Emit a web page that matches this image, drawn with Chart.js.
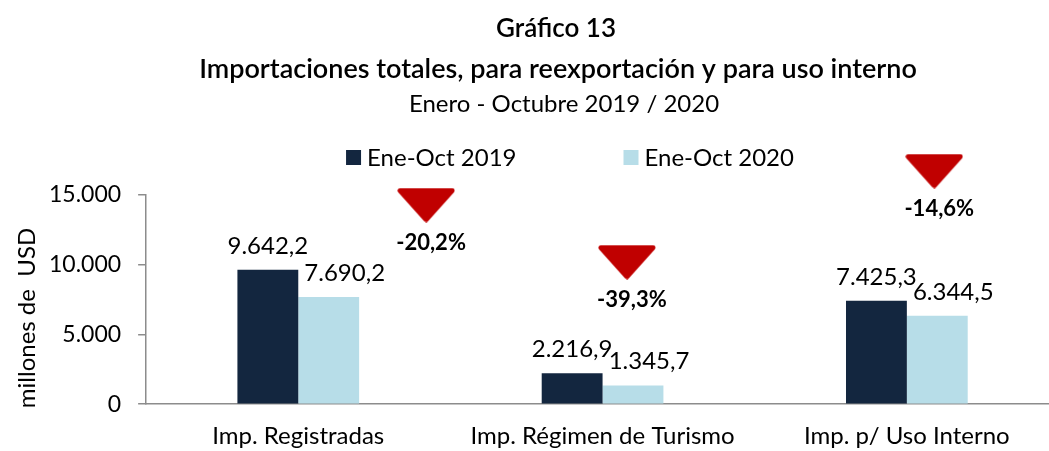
<!DOCTYPE html>
<html>
<head>
<meta charset="utf-8">
<script src="https://cdn.jsdelivr.net/npm/chart.js@4.4.0/dist/chart.umd.min.js"></script>
<style>
  html, body { margin: 0; padding: 0; background: #fff; overflow: hidden; }
  #wrap { width: 1059px; height: 469px; }
</style>
</head>
<body>
<div id="wrap"><canvas id="chart"></canvas></div>
<script>
const categorias = ['Imp. Registradas', 'Imp. Régimen de Turismo', 'Imp. p/ Uso Interno'];
const series = ['Ene-Oct 2019', 'Ene-Oct 2020'];
const valores2019 = [9642.2, 2216.9, 7425.3];
const valores2020 = [7690.2, 1345.7, 6344.5];
const variacion = [-20.2, -39.3, -14.6];
const yTicks = [0, 5000, 10000, 15000];
// where the red arrows sit: x in category units, y in axis units
const flechaX = [0.42, 1.08, 2.09];
const flechaY = [14280, 10190, 16720];

const titulo = ['Gráfico 13', 'Importaciones totales, para reexportación y para uso interno'];
const subtitulo = 'Enero - Octubre 2019 / 2020';
const tituloY = 'millones de  USD';

const FONT = 'Lato, "Open Sans", sans-serif';
const navy = '#13263F';
const celeste = '#B7DDE8';
const rojo = '#C00000';
const gris = '#8C8C8C';

function fmt(v, dec) {
  const parts = v.toFixed(dec).split('.');
  const miles = parts[0].replace(/\B(?=(\d{3})+(?!\d))/g, '.');
  return parts[1] ? miles + ',' + parts[1] : miles;
}

// flat red triangle with soft corners
function makeTriangle(w, h, color) {
  const c = document.createElement('canvas');
  c.width = w;
  c.height = h;
  const g = c.getContext('2d');
  g.fillStyle = color;
  g.strokeStyle = color;
  g.lineJoin = 'round';
  g.lineWidth = 5;
  g.beginPath();
  g.moveTo(3, 3);
  g.lineTo(w - 3, 3);
  g.lineTo(w / 2, h - 3);
  g.closePath();
  g.fill();
  g.stroke();
  return c;
}
const triangulo = makeTriangle(58, 35, rojo);

const encabezado = {
  id: 'encabezado',
  afterDraw(chart) {
    const ctx = chart.ctx;
    ctx.save();
    ctx.fillStyle = '#000';
    ctx.textAlign = 'center';
    ctx.textBaseline = 'alphabetic';
    ctx.font = `600 26px ${FONT}`;
    ctx.fillText(titulo[0], 556, 37);
    ctx.font = `600 27px ${FONT}`;
    ctx.fillText(titulo[1], 558, 78);
    ctx.font = `400 24px ${FONT}`;
    ctx.fillText(subtitulo, 564, 112);

    // legend
    const box = 15, gapTxt = 6, gapItem = 107;
    const anchos = series.map(s => box + gapTxt + ctx.measureText(s).width);
    let x = 570 - (anchos[0] + gapItem + anchos[1]) / 2;
    ctx.textAlign = 'left';
    series.forEach((s, i) => {
      ctx.fillStyle = chart.data.datasets[i].backgroundColor;
      ctx.fillRect(x, 150, box, box);
      ctx.fillStyle = '#000';
      ctx.fillText(s, x + box + gapTxt, 166);
      x += anchos[i] + gapItem;
    });

    // y axis title, a bit below the axis middle as in the original
    ctx.save();
    ctx.translate(35, 318);
    ctx.rotate(-Math.PI / 2);
    ctx.textAlign = 'center';
    ctx.font = `400 24px ${FONT}`;
    ctx.fillText(tituloY, 0, 0);
    ctx.restore();
    ctx.restore();
  }
};

const etiquetas = {
  id: 'etiquetas',
  afterDatasetsDraw(chart) {
    const ctx = chart.ctx;
    const { x: sx, y: sy } = chart.scales;
    ctx.save();
    ctx.fillStyle = '#000';
    ctx.textAlign = 'center';
    ctx.textBaseline = 'alphabetic';
    ctx.font = `400 24px ${FONT}`;
    [0, 1].forEach(d => {
      const off = d === 1 ? 16 : 0;
      chart.getDatasetMeta(d).data.forEach((bar, i) => {
        ctx.fillText(fmt(chart.data.datasets[d].data[i], 1), bar.x + off, bar.y - 16);
      });
    });

    // red arrows with the change
    ctx.font = `700 22px ${FONT}`;
    flechaX.forEach((fx, i) => {
      const px = sx.getPixelForValue(fx);
      const py = sy.getPixelForValue(flechaY[i]);
      ctx.drawImage(triangulo, px - triangulo.width / 2, py - triangulo.height / 2);
      ctx.fillText(fmt(variacion[i], 1) + '%', px + 5, py + 45);
    });
    ctx.restore();
  }
};

new Chart(document.getElementById('chart'), {
  type: 'bar',
  data: {
    labels: categorias,
    datasets: [
      { label: series[0], data: valores2019, backgroundColor: navy },
      { label: series[1], data: valores2020, backgroundColor: celeste }
    ]
  },
  options: {
    responsive: true,
    maintainAspectRatio: false,
    animation: false,
    events: [],
    layout: { padding: { top: 195, left: 32, right: 0, bottom: 0 } },
    datasets: { bar: { categoryPercentage: 0.4, barPercentage: 1.0 } },
    plugins: {
      legend: { display: false },
      title: { display: false },
      tooltip: { enabled: false }
    },
    scales: {
      x: {
        grid: { display: false, drawTicks: false },
        border: { display: true, color: gris, width: 1.5 },
        ticks: { padding: 18, color: '#000', font: { family: FONT, size: 24 } }
      },
      y: {
        min: 0,
        max: 15000,
        afterBuildTicks: axis => { axis.ticks = yTicks.map(v => ({ value: v })); },
        grid: { drawOnChartArea: false, drawTicks: true, tickLength: 8, color: gris, lineWidth: 1.5 },
        border: { color: gris, width: 1.5 },
        ticks: { padding: 17, color: '#000', font: { family: FONT, size: 23 }, callback: v => fmt(v, 0) }
      }
    }
  },
  plugins: [encabezado, etiquetas]
});
</script>
</body>
</html>
